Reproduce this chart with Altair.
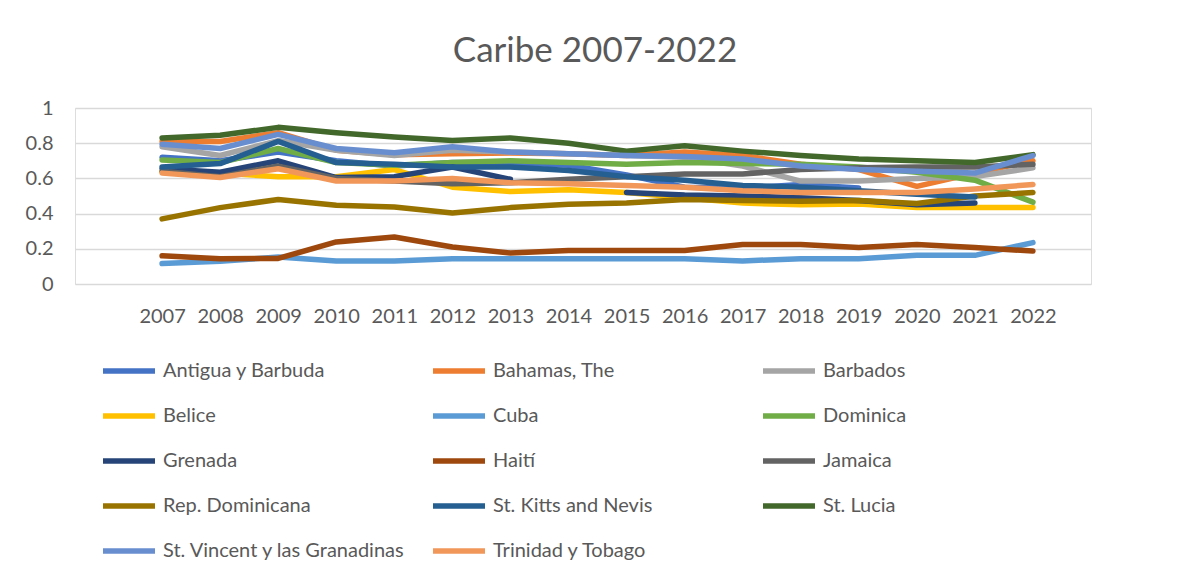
import altair as alt
import pandas as pd

years = list(range(2007, 2023))

countries = [
    "Antigua y Barbuda", "Bahamas, The", "Barbados", "Belice", "Cuba", "Dominica",
    "Grenada", "Haití", "Jamaica", "Rep. Dominicana", "St. Kitts and Nevis",
    "St. Lucia", "St. Vincent y las Granadinas", "Trinidad y Tobago",
]
colors = [
    "#4472C4", "#ED7D31", "#A5A5A5", "#FFC000", "#5B9BD5", "#70AD47",
    "#264478", "#9E480E", "#636363", "#997300", "#255E91",
    "#43682B", "#698ED0", "#F1975A",
]

antigua = [0.72, 0.70, 0.75, 0.70, 0.67, 0.69, 0.69, 0.675, 0.62, 0.55, 0.545, 0.565, 0.545, None, None, None]
bahamas = [0.81, 0.81, 0.86, 0.76, 0.735, 0.74, 0.745, 0.74, 0.73, 0.75, 0.73, 0.68, 0.65, 0.555, 0.63, 0.70]
barbados = [0.78, 0.73, 0.815, 0.76, 0.73, 0.76, 0.75, 0.74, 0.73, 0.72, 0.67, 0.585, 0.585, 0.60, 0.61, 0.66]
belice = [0.64, 0.63, 0.61, 0.61, 0.65, 0.55, 0.525, 0.535, 0.52, 0.49, 0.46, 0.45, 0.455, 0.435, 0.435, 0.435]
cuba = [0.116, 0.129, 0.153, 0.131, 0.131, 0.144, 0.144, 0.144, 0.144, 0.144, 0.131, 0.144, 0.144, 0.163, 0.163, 0.235]
dominica = [0.705, 0.69, 0.77, 0.69, 0.675, 0.69, 0.70, 0.69, 0.68, 0.69, 0.685, 0.68, 0.665, 0.635, 0.59, 0.465]
grenada = [0.655, 0.635, 0.70, 0.605, 0.61, 0.665, 0.595, None, 0.52, 0.505, 0.50, 0.49, 0.475, 0.45, 0.46, None]
haiti = [0.16, 0.144, 0.145, 0.239, 0.267, 0.21, 0.176, 0.19, 0.19, 0.19, 0.225, 0.225, 0.207, 0.225, 0.207, 0.187]
jamaica = [0.64, 0.61, 0.67, 0.60, 0.585, 0.57, 0.575, 0.595, 0.61, 0.625, 0.625, 0.65, 0.66, 0.665, 0.665, 0.68]
repdom = [0.37, 0.434, 0.48, 0.447, 0.437, 0.403, 0.434, 0.453, 0.46, 0.48, 0.475, 0.47, 0.475, 0.457, 0.50, 0.52]
stkitts = [0.665, 0.684, 0.81, 0.69, 0.68, 0.665, 0.665, 0.645, 0.61, 0.59, 0.56, 0.55, 0.53, 0.51, 0.495, None]
stlucia = [0.83, 0.845, 0.89, 0.86, 0.835, 0.815, 0.83, 0.80, 0.755, 0.785, 0.755, 0.73, 0.71, 0.70, 0.69, 0.735]
stvincent = [0.794, 0.77, 0.85, 0.77, 0.746, 0.78, 0.75, 0.74, 0.73, 0.725, 0.71, 0.67, 0.65, 0.64, 0.63, 0.73]
trinidad = [0.63, 0.605, 0.655, 0.585, 0.585, 0.60, 0.575, 0.57, 0.56, 0.55, 0.53, 0.52, 0.52, 0.52, 0.54, 0.565]

series = [antigua, bahamas, barbados, belice, cuba, dominica, grenada, haiti,
          jamaica, repdom, stkitts, stlucia, stvincent, trinidad]

rows = []
for name, vals in zip(countries, series):
    seg = 0
    for yr, v in zip(years, vals):
        if v is None:
            seg += 1
            continue
        rows.append({"country": name, "year": yr, "value": v, "seg": f"{name}-{seg}"})
df = pd.DataFrame(rows)

FONT = "Lato"
TXT = "#595959"

chart = alt.Chart(df).mark_line(
    strokeWidth=5.5, strokeCap="round", strokeJoin="round"
).encode(
    x=alt.X("year:Q",
            scale=alt.Scale(domain=[2005.5, 2023.0], nice=False, zero=False),
            axis=alt.Axis(values=years, format="d", grid=False, domain=False, ticks=False,
                          labelPadding=22, title=None, labelFontSize=20, labelFont=FONT,
                          labelColor=TXT, labelFlush=False, labelOverlap=False)),
    y=alt.Y("value:Q",
            scale=alt.Scale(domain=[0, 1], nice=False),
            axis=alt.Axis(values=[0, 0.2, 0.4, 0.6, 0.8, 1], format="~g", domain=False,
                          ticks=False, labelPadding=22, title=None, labelFontSize=20,
                          labelFont=FONT, labelColor=TXT, gridColor="#D9D9D9", gridWidth=1.3)),
    color=alt.Color("country:N",
                    scale=alt.Scale(domain=countries, range=colors),
                    legend=alt.Legend(orient="none", legendX=25, legendY=234,
                                      direction="horizontal", columns=3, title=None,
                                      symbolType="stroke", symbolSize=2704,
                                      symbolStrokeWidth=5.5, labelFontSize=20,
                                      labelFont=FONT, labelColor=TXT, labelOffset=5,
                                      columnPadding=16, rowPadding=5, gridAlign="all",
                                      padding=0, labelLimit=500)),
    detail="seg:N",
).properties(
    width=1016, height=176,
    title=alt.TitleParams("Caribe 2007-2022", fontSize=35, font=FONT, fontWeight="normal",
                          color=TXT, offset=29, anchor="middle", dx=12),
    padding={"left": 67, "top": 100, "right": 80, "bottom": 278},
    autosize=alt.AutoSizeParams(type="none"),
).configure_view(stroke=None).configure(background="white")

chart.save("out.html", embed_options={"renderer": "svg", "actions": False})
